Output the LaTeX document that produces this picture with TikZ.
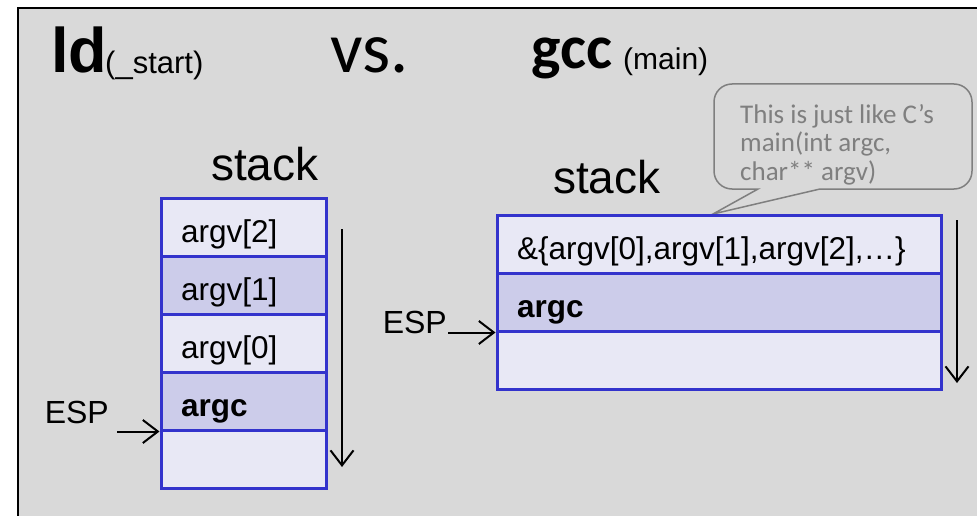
\documentclass[tikz,border=0pt]{standalone}
\usepackage{fontspec}
\setmainfont{Liberation Sans}
\newfontfamily\calfont{Carlito}
\usetikzlibrary{arrows.meta,calc}
\definecolor{slidebg}{RGB}{217,217,217}
\definecolor{celllight}{RGB}{232,232,245}
\definecolor{celldark}{RGB}{204,204,234}
\definecolor{cellline}{RGB}{51,51,204}
\definecolor{notegray}{RGB}{127,127,127}
\begin{document}
\begin{tikzpicture}[x=1pt,y=-1pt,
  cell/.style={draw=cellline, line width=3pt, rectangle, minimum height=58pt,
    inner xsep=20pt, inner ysep=0pt, text height=31pt, text depth=0pt,
    align=left, font=\fontsize{31.5}{36}\selectfont},
  cellL/.style={cell, text width=125pt},
  cellR/.style={cell, text width=404pt},
  ptr/.style={line width=2pt, -{Straight Barb[length=15pt,width=23pt]}},
  esp/.style={inner sep=0pt, font=\fontsize{32}{36}\selectfont},
  title/.style={anchor=base west, inner sep=0pt},
  stacklabel/.style={anchor=base west, inner sep=0pt, font=\fontsize{46}{50}\selectfont},
  note/.style={anchor=north west, inner sep=0pt, align=left, text=notegray,
    font=\calfont\fontsize{27}{28.5}\selectfont}
]
\useasboundingbox (0,0) rectangle (977,516);

% slide background and frame
\fill[white] (0,0) rectangle (977,516);
\fill[slidebg] (18,8) rectangle (977,516);
\draw[line width=2.5pt] (18,516) -- (18,8) -- (977,8);

% headings
\node[title, font=\fontsize{63}{66}\selectfont\bfseries] (ld) at (51,73) {ld};
\node[title, font=\fontsize{31}{34}\selectfont] (ldsub) at (105,74) {(\_start)};
\node[title, font=\calfont\fontsize{72}{74}\selectfont] (vs) at (330,73) {vs.};
\node[title, font=\calfont\bfseries\fontsize{62}{64}\selectfont] (gcc) at (531,69) {gcc};
\node[title, font=\fontsize{30}{33}\selectfont] (gccsub) at (623,70) {(main)};

% callout
\draw[notegray, fill=slidebg, line width=1.5pt]
  (758,189) -- (713,214) -- (820,189)
  [rounded corners=18pt] -- (972,189) -- (972,84) -- (714,84) -- (714,189)
  [sharp corners] -- cycle;
\node[note] (noteText) at (740,104) {This is just like C’s\\main(int argc,\\char** argv)};

% ld stack
\node[stacklabel] (stackL) at (211,180) {stack};
\node[cellL, fill=celllight] (l1) at (243.5,227) {argv[2]};
\node[cellL, fill=celldark]  (l2) at (243.5,285) {argv[1]};
\node[cellL, fill=celllight] (l3) at (243.5,343) {argv[0]};
\node[cellL, fill=celldark]  (l4) at (243.5,401) {\textbf{argc}};
\node[cellL, fill=celllight] (l5) at (243.5,459) {};

\coordinate (lgrowTop) at (342,229);
\coordinate (lgrowEnd) at (342,467);
\draw[ptr] (lgrowTop) -- (lgrowEnd);

\node[esp, anchor=east] (espL) at (109,412) {ESP};
\coordinate (espLstart) at ($(espL.east)+(8,0)$);
\draw[ptr] (espLstart |- l4.south west) -- (l4.south west);

% gcc stack
\node[stacklabel] (stackR) at (553,193) {stack};
\node[cellR, fill=celllight] (r1) at (719,244) {\&\{argv[0],argv[1],argv[2],…\}};
\node[cellR, fill=celldark]  (r2) at (719,302) {\textbf{argc}};
\node[cellR, fill=celllight] (r3) at (719,360) {};

\coordinate (rgrowTop) at (957,220);
\coordinate (rgrowEnd) at (957,383);
\draw[ptr] (rgrowTop) -- (rgrowEnd);

\node[esp, anchor=east] (espR) at (447,322) {ESP};
\coordinate (espRstart) at ($(espR.east)+(1,0)$);
\draw[ptr] (espRstart |- r2.south west) -- (r2.south west);
\end{tikzpicture}
\end{document}
